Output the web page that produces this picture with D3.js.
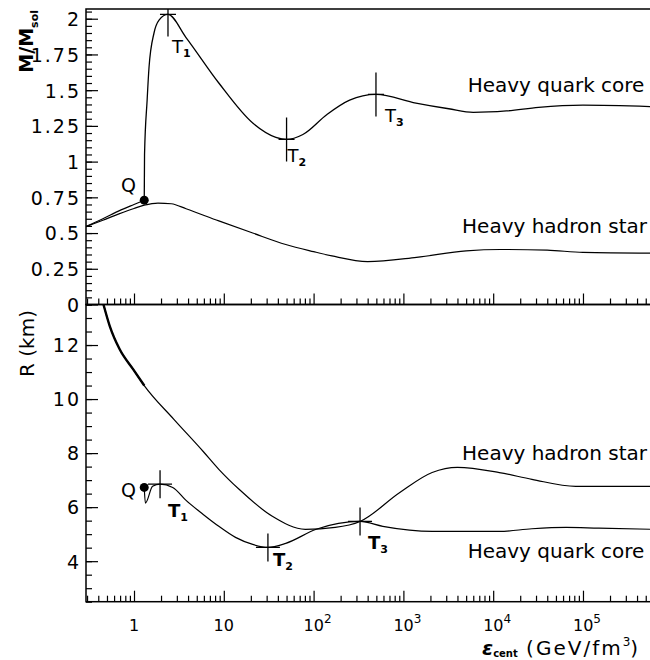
<!DOCTYPE html>
<html><head><meta charset="utf-8">
<script src="https://cdn.jsdelivr.net/npm/d3@7"></script>
<style>body{margin:0;background:#fff}text{font-family:"DejaVu Sans",sans-serif;fill:#000}</style>
</head><body>
<svg id="c" width="650" height="660"></svg>
<script>
// ---------- data ----------
const xTickValues = [1, 10, 100, 1000, 10000, 100000];
const xTickBase   = ["1", "10", "10", "10", "10", "10"];
const xTickExp    = ["", "", "2", "3", "4", "5"];
const mTickValues = [0, 0.25, 0.5, 0.75, 1, 1.25, 1.5, 1.75, 2];
const rTickValues = [4, 6, 8, 10, 12];

// top panel: M/Msol vs eps_cent
const epsHadronM = [0.29, 0.45, 0.68, 1.0, 1.3, 1.85, 2.6, 3.8, 8.8, 21, 49, 100, 160, 400, 1400, 5000, 12000, 40000, 100000, 590000];
const valHadronM = [0.545, 0.59, 0.634, 0.672, 0.695, 0.71, 0.705, 0.67, 0.585, 0.50, 0.42, 0.37, 0.34, 0.30, 0.33, 0.375, 0.385, 0.38, 0.365, 0.36];
const epsBranchM = [0.29, 0.45, 0.68, 1.0, 1.3];
const valBranchM = [0.545, 0.60, 0.655, 0.70, 0.73];
const epsQuarkM  = [1.30, 1.31, 1.40, 1.47, 1.67, 1.90, 2.39, 3.78, 8.8, 21, 38, 50, 76, 141, 252, 495, 1380, 3200, 6000, 14000, 32000, 100000, 590000];
const valQuarkM  = [0.73, 1.05, 1.43, 1.66, 1.90, 1.99, 2.03, 1.87, 1.55, 1.27, 1.17, 1.155, 1.19, 1.33, 1.43, 1.47, 1.41, 1.37, 1.345, 1.355, 1.38, 1.395, 1.385];

// bottom panel: R (km) vs eps_cent
const epsHadronR = [0.457, 0.537, 0.69, 0.98, 1.30, 2.78, 5.9, 8.8, 14.8, 34.7, 81, 174, 329, 912, 2090, 4000, 11700, 27000, 83000, 590000];
const valHadronR = [13.5, 12.7, 11.85, 11.1, 10.5, 9.25, 8.06, 7.4, 6.66, 5.66, 5.18, 5.25, 5.47, 6.54, 7.28, 7.47, 7.28, 7.03, 6.77, 6.77];
const epsQuarkR  = [1.30, 1.34, 1.61, 1.95, 2.7, 3.8, 5.9, 8.8, 13.5, 21, 31, 49, 107, 329, 590, 2090, 11700, 27000, 65000, 150000, 590000];
const valQuarkR  = [6.73, 6.15, 6.77, 6.85, 6.73, 6.25, 5.73, 5.29, 4.88, 4.62, 4.51, 4.66, 5.18, 5.47, 5.29, 5.10, 5.10, 5.20, 5.25, 5.22, 5.18];

const qPointEps = 1.30, qPointM = 0.73, qPointR = 6.73;
const tNames   = ["1", "2", "3"];
const tEpsM    = [2.39, 50, 495];
const tValM    = [2.03, 1.155, 1.47];
const tEpsR    = [1.95, 31, 329];
const tValR    = [6.85, 4.51, 5.47];

// ---------- layout ----------
const L = 86, Rt = 652, T0 = 9, Y0 = 304.5, B = 601.7;
const svg = d3.select("#c");
const x  = d3.scaleLog().domain([0.292, 5.87e5]).range([L, Rt]);
const yM = d3.scaleLinear().domain([0, 2.068]).range([Y0, T0]);
const yR = d3.scaleLinear().domain([2.5, 13.5]).range([B, Y0]);

const defs = svg.append("defs");
defs.append("clipPath").attr("id", "clipTop").append("rect").attr("x", L).attr("y", T0).attr("width", Rt - L).attr("height", Y0 - T0);
defs.append("clipPath").attr("id", "clipBot").append("rect").attr("x", L).attr("y", Y0).attr("width", Rt - L).attr("height", B - Y0);

// minor tick values
const xMinor = [];
for (let d = -1; d <= 5; d++) for (let k = 2; k <= 9; k++) { const v = k * Math.pow(10, d); if (v >= 0.292 && v <= 5.87e5) xMinor.push(v); }
const mMinor = d3.range(0, 2.0501, 0.05);
const rMinor = d3.range(2.5, 13.501, 0.5);

function styleAxis(g) { g.select(".domain").remove(); g.selectAll("line").attr("stroke", "#000").attr("stroke-width", 1.2); }

// x ticks on both panel bottoms
[Y0, B].forEach(yy => {
  svg.append("g").attr("transform", `translate(0,${yy})`)
    .call(d3.axisBottom(x).tickValues(xTickValues).tickSize(-11).tickFormat("")).call(styleAxis);
  svg.append("g").attr("transform", `translate(0,${yy})`)
    .call(d3.axisBottom(x).tickValues(xMinor).tickSize(-6).tickFormat("")).call(styleAxis);
});

// y ticks
function yLabels(g) {
  g.selectAll("text").attr("font-size", 19).attr("letter-spacing", "2px").attr("dy", "0.36em").attr("x", -5);
}
svg.append("g").attr("transform", `translate(${L},0)`)
  .call(d3.axisLeft(yM).tickValues(mTickValues).tickSize(-12).tickPadding(7).tickFormat(d => String(d)))
  .call(styleAxis).call(yLabels);
svg.append("g").attr("transform", `translate(${L},0)`)
  .call(d3.axisLeft(yM).tickValues(mMinor).tickSize(-6).tickFormat("")).call(styleAxis);
svg.append("g").attr("transform", `translate(${L},0)`)
  .call(d3.axisLeft(yR).tickValues(rTickValues).tickSize(-12).tickPadding(7).tickFormat(d => String(d)))
  .call(styleAxis).call(yLabels);
svg.append("g").attr("transform", `translate(${L},0)`)
  .call(d3.axisLeft(yR).tickValues(rMinor).tickSize(-6).tickFormat("")).call(styleAxis);

// frames
svg.append("rect").attr("x", L).attr("y", T0).attr("width", Rt - L).attr("height", Y0 - T0).attr("fill", "none").attr("stroke", "#000").attr("stroke-width", 1.5);
svg.append("rect").attr("x", L).attr("y", Y0).attr("width", Rt - L).attr("height", B - Y0).attr("fill", "none").attr("stroke", "#000").attr("stroke-width", 1.5);

// x tick labels
xTickValues.forEach((v, i) => {
  const t = svg.append("text").attr("y", 631).attr("font-size", 16);
  if (xTickExp[i] === "") {
    t.attr("x", x(v)).attr("text-anchor", "middle").text(xTickBase[i]);
  } else {
    t.attr("x", x(v) - 10).attr("text-anchor", "start");
    t.append("tspan").text(xTickBase[i]);
    t.append("tspan").attr("dy", -8).attr("font-size", 12).text(xTickExp[i]);
  }
});

// curves
const zip = (a, b) => a.map((e, i) => [e, b[i]]);
const lineM = d3.line().x(d => x(d[0])).y(d => yM(d[1])).curve(d3.curveMonotoneX);
const lineR = d3.line().x(d => x(d[0])).y(d => yR(d[1])).curve(d3.curveMonotoneX);
const gTop = svg.append("g").attr("clip-path", "url(#clipTop)");
const gBot = svg.append("g").attr("clip-path", "url(#clipBot)");
function path(g, gen, data, w) {
  g.append("path").attr("d", gen(data)).attr("fill", "none").attr("stroke", "#000").attr("stroke-width", w).attr("stroke-linejoin", "round");
}
path(gTop, lineM, zip(epsHadronM, valHadronM), 1.2);
path(gTop, lineM, zip(epsBranchM, valBranchM), 1.2);
path(gTop, lineM, zip(epsQuarkM, valQuarkM), 1.3);
path(gBot, lineR, zip(epsHadronR, valHadronR), 1.2);
path(gBot, lineR, zip(epsHadronR, valHadronR).filter(d => d[0] <= qPointEps), 2.4);
path(gBot, lineR, zip(epsQuarkR, valQuarkR), 1.2);

// Q points
gTop.append("circle").attr("cx", x(qPointEps)).attr("cy", yM(qPointM)).attr("r", 4.5).attr("fill", "#000");
gBot.append("circle").attr("cx", x(qPointEps)).attr("cy", yR(qPointR)).attr("r", 4.5).attr("fill", "#000");
svg.append("text").attr("x", x(0.717)).attr("y", yM(0.787)).attr("font-size", 19).text("Q");
svg.append("text").attr("x", x(0.717)).attr("y", yR(6.375)).attr("font-size", 19).text("Q");

// T markers
const tOffTop = [[4, 39], [1, 23], [9, 28]];
const tOffBot = [[8, 33], [5, 19], [8, 28]];
function tMark(g, cx, cy, v, h, off, name, bold) {
  g.append("line").attr("x1", cx).attr("x2", cx).attr("y1", cy - v).attr("y2", cy + v).attr("stroke", "#000").attr("stroke-width", 1.3);
  g.append("line").attr("x1", cx - h).attr("x2", cx + h).attr("y1", cy).attr("y2", cy).attr("stroke", "#000").attr("stroke-width", 1.3);
  const t = svg.append("text").attr("x", cx + off[0]).attr("y", cy + off[1]).attr("font-size", 18).attr("font-weight", bold ? "bold" : "normal");
  t.append("tspan").text("T");
  t.append("tspan").attr("dy", 4).attr("font-size", 11).attr("font-weight", "bold").text(name);
}
tNames.forEach((n, i) => {
  tMark(gTop, x(tEpsM[i]), yM(tValM[i]), 22, 8, tOffTop[i], n, false);
  tMark(gBot, x(tEpsR[i]), yR(tValR[i]), 14, 12, tOffBot[i], n, true);
});

// curve labels
svg.append("text").attr("x", x(5200)).attr("y", yM(1.486)).attr("font-size", 20).text("Heavy quark core");
svg.append("text").attr("x", x(4500)).attr("y", yM(0.50)).attr("font-size", 20).text("Heavy hadron star");
svg.append("text").attr("x", x(4500)).attr("y", yR(7.745)).attr("font-size", 20).text("Heavy hadron star");
svg.append("text").attr("x", x(5200)).attr("y", yR(4.12)).attr("font-size", 20).text("Heavy quark core");

// axis titles
const tm = svg.append("text").attr("transform", "translate(33,10) rotate(-90)").attr("text-anchor", "end").attr("font-size", 19).attr("font-weight", "bold");
tm.append("tspan").text("M/M");
tm.append("tspan").attr("dy", 5).attr("font-size", 11).text("sol");
svg.append("text").attr("transform", "translate(34,310) rotate(-90)").attr("text-anchor", "end").attr("font-size", 20).text("R (km)");
const tx = svg.append("text").attr("x", 482).attr("y", 655).attr("font-size", 20);
tx.append("tspan").attr("font-style", "italic").attr("font-weight", "bold").text("ε");
tx.append("tspan").attr("dy", 2).attr("font-size", 10).attr("font-weight", "bold").text("cent");
tx.append("tspan").attr("dy", -2).attr("letter-spacing", "2px").text(" (GeV/fm");
tx.append("tspan").attr("dy", -9).attr("font-size", 12).text("3");
tx.append("tspan").attr("dy", 9).text(")");
</script>
</body></html>
